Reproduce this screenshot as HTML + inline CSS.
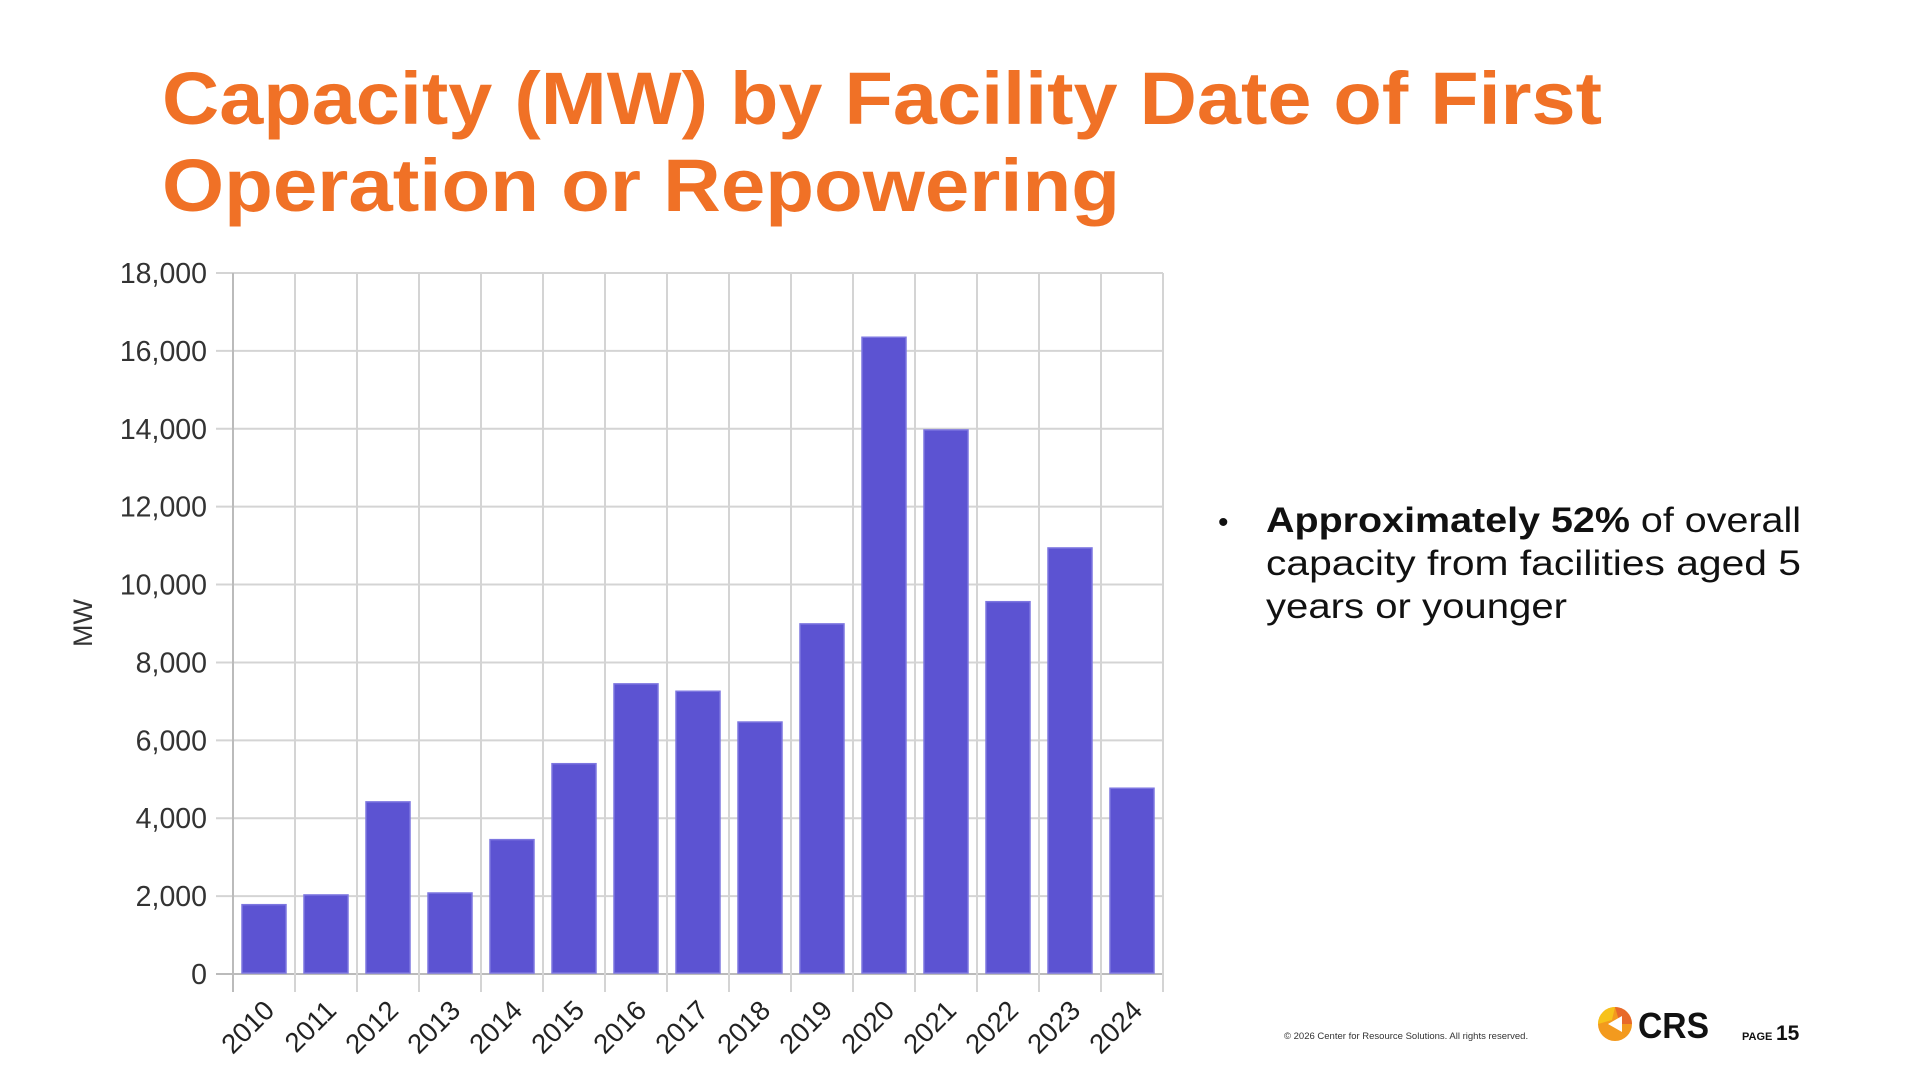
<!DOCTYPE html>
<html><head><meta charset="utf-8"><style>
html,body{margin:0;padding:0;background:#fff;}
svg{display:block;font-family:"Liberation Sans",sans-serif;}
</style></head><body>
<svg id="slide" width="1920" height="1080" viewBox="0 0 1920 1080" xmlns="http://www.w3.org/2000/svg">
  <g fill="#F07126" font-weight="700" font-size="74">
    <text x="162" y="124" textLength="1440" lengthAdjust="spacingAndGlyphs">Capacity (MW) by Facility Date of First</text>
    <text x="162" y="211" textLength="958" lengthAdjust="spacingAndGlyphs">Operation or Repowering</text>
  </g>
  <g id="chart"></g>
  <g font-size="35" fill="#111">
    <text x="1218" y="532" font-size="30">•</text>
    <text x="1266" y="532" textLength="535" lengthAdjust="spacingAndGlyphs"><tspan font-weight="700">Approximately 52%</tspan> of overall</text>
    <text x="1266" y="575" textLength="535" lengthAdjust="spacingAndGlyphs">capacity from facilities aged 5</text>
    <text x="1266" y="618" textLength="301" lengthAdjust="spacingAndGlyphs">years or younger</text>
  </g>
  <g>
    <text x="1284" y="1039" font-size="9.5" fill="#333">© 2026 Center for Resource Solutions.  All rights reserved.</text>
    <g>
      <circle cx="1615" cy="1024" r="17" fill="#F39A1E"/>
      <path d="M1615 1007 A17 17 0 0 1 1632 1024 L1620 1024 Z" fill="#E8692A"/>
      <path d="M1598 1024 A17 17 0 0 1 1615 1007 L1612 1020 Z" fill="#F7C21A"/>
      <polygon points="1608,1024 1622,1016 1622,1032" fill="#fff"/>
      <text x="1638" y="1038" font-size="36" font-weight="700" fill="#111" textLength="71" lengthAdjust="spacingAndGlyphs">CRS</text>
    </g>
    <text x="1742" y="1040" font-size="11" font-weight="700" fill="#111">PAGE</text>
    <text x="1776" y="1040" font-size="21" font-weight="700" fill="#111">15</text>
  </g>
</svg>
<script>
const categories = ["2010","2011","2012","2013","2014","2015","2016","2017","2018","2019","2020","2021","2022","2023","2024"];
const capacityMW = [1780,2030,4420,2080,3450,5400,7450,7260,6470,8990,16350,13970,9560,10940,4770];
const yTicks = [0,2000,4000,6000,8000,10000,12000,14000,16000,18000];
const yTickLabels = ["0","2,000","4,000","6,000","8,000","10,000","12,000","14,000","16,000","18,000"];

const NS = "http://www.w3.org/2000/svg";
const g = document.getElementById("chart");
const L = 233, R = 1163, T = 273, B = 974, yMax = 18000;
const band = (R - L) / categories.length;
function yScale(v){ return B - (v / yMax) * (B - T); }
function xBand(i){ return L + i * band; }
function mk(tag, attrs){ const e = document.createElementNS(NS, tag); for (const k in attrs) e.setAttribute(k, attrs[k]); g.appendChild(e); return e; }

yTicks.forEach((t, i) => {
  const y = yScale(t);
  const gl = mk("line", {x1: 216, x2: R, y1: y, y2: y, stroke: i === 0 ? "#bbb" : "#d4d4d4", "stroke-width": 2});
  
  
  const tx = mk("text", {x: 207, y: y + 10, "text-anchor": "end", "font-size": 28.5, fill: "#333"});
  tx.textContent = yTickLabels[i];
  
  
});
for (let i = 0; i <= categories.length; i++) {
  const x = xBand(i);
  const vl = mk("line", {x1: x, x2: x, y1: T, y2: B + 18, stroke: i === 0 ? "#bbb" : "#d4d4d4", "stroke-width": 2});
  
  
}
const bw = 44;
categories.forEach((c, i) => {
  const cx = xBand(i) + band / 2;
  const y = yScale(capacityMW[i]);
  const r = mk("rect", {x: cx - bw / 2, y: y, width: bw, height: B - y - 1, fill: "#5C53D2", stroke: "#7d76e0", "stroke-width": 1.5});
  
  
  const lx = cx + 12, ly = B + 38;
  const t = mk("text", {x: lx, y: ly, "text-anchor": "end", "font-size": 27.5, fill: "#222", transform: "rotate(-45 " + lx + " " + ly + ")"});
  t.textContent = c;
  
  
});
const yt = mk("text", {x: 92, y: 623, "text-anchor": "middle", "font-size": 27, fill: "#333", transform: "rotate(-90 92 623)"});
yt.textContent = "MW";


</script>
</body></html>
